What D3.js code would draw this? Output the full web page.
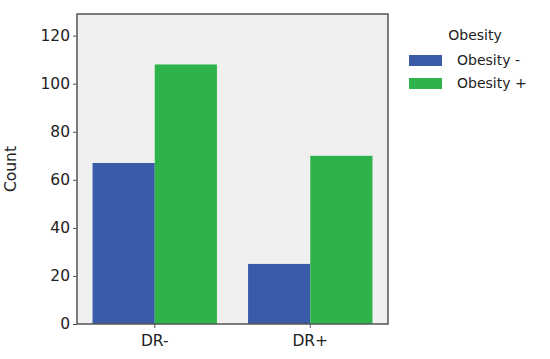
<!DOCTYPE html>
<html>
<head>
<meta charset="utf-8">
<script src="https://cdn.jsdelivr.net/npm/d3@7"></script>
<style>
  body { margin: 0; background: #fff; }
  text { font-family: "DejaVu Sans", sans-serif; fill: #222; }
</style>
</head>
<body>
<div id="chart"></div>
<script>
// chart data
var categories = ["DR-", "DR+"];
var groups = ["Obesity -", "Obesity +"];
var obesityNeg = [67, 25];
var obesityPos = [108, 70];
var yTicks = [0, 20, 40, 60, 80, 100, 120];
var colors = ["#3a5ba8", "#2eb34b"];

var width = 550,
  height = 359;
var margin = { top: 14, right: 162, bottom: 35, left: 77 };
var plotW = width - margin.left - margin.right,
  plotH = height - margin.top - margin.bottom;

var svg = d3
  .select("#chart")
  .append("svg")
  .attr("width", width)
  .attr("height", height);

var g = svg
  .append("g")
  .attr("transform", "translate(" + margin.left + "," + margin.top + ")");

//background of the plot area
g.append("rect")
  .attr("width", plotW)
  .attr("height", plotH)
  .attr("fill", "#f0f0f0");

var x = d3.scaleBand().domain(categories).range([0, plotW]).padding(0);
var xInner = d3
  .scaleBand()
  .domain(groups)
  .range([x.bandwidth() * 0.1, x.bandwidth() * 0.9]);
var y = d3.scaleLinear().domain([0, 129]).range([plotH, 0]);

var rows = categories.map(function(c, i) {
  return { cat: c, values: [obesityNeg[i], obesityPos[i]] };
});

rows.forEach(function(r) {
  g.selectAll(null)
    .data(r.values)
    .enter()
    .append("rect")
    .attr("x", function(v, j) {
      return x(r.cat) + xInner(groups[j]);
    })
    .attr("y", function(v) {
      return y(v);
    })
    .attr("width", xInner.bandwidth())
    .attr("height", function(v) {
      return plotH - y(v);
    })
    .attr("fill", function(v, j) {
      return colors[j];
    });
});

//axes
var yAxis = g
  .append("g")
  .call(d3.axisLeft(y).tickValues(yTicks).tickSize(4).tickPadding(3));
var xAxis = g
  .append("g")
  .attr("transform", "translate(0," + plotH + ")")
  .call(d3.axisBottom(x).tickSize(4).tickPadding(7));

[yAxis, xAxis].forEach(function(a) {
  a.select(".domain").remove();
  a.selectAll("line").attr("stroke", "#555");
  a.selectAll("text")
    .attr("font-size", 15.5)
    .attr("fill", "#222");
});

//frame around the plot area
g.append("rect")
  .attr("width", plotW)
  .attr("height", plotH)
  .attr("fill", "none")
  .attr("stroke", "#555")
  .attr("stroke-width", 1.5);

svg
  .append("text")
  .attr("transform", "translate(16," + (margin.top + plotH / 2) + ") rotate(-90)")
  .attr("text-anchor", "middle")
  .attr("font-size", 15.5)
  .text("Count");

//legend
var legend = svg.append("g").attr("transform", "translate(409,0)");
legend
  .append("text")
  .attr("x", 66)
  .attr("y", 40)
  .attr("text-anchor", "middle")
  .attr("font-size", 14)
  .text("Obesity");

groups.forEach(function(name, i) {
  legend
    .append("rect")
    .attr("x", 0)
    .attr("y", 55 + i * 23)
    .attr("width", 33)
    .attr("height", 11)
    .attr("fill", colors[i]);
  legend
    .append("text")
    .attr("x", 48)
    .attr("y", 65 + i * 23)
    .attr("font-size", 14)
    .text(name);
});
</script>
</body>
</html>
